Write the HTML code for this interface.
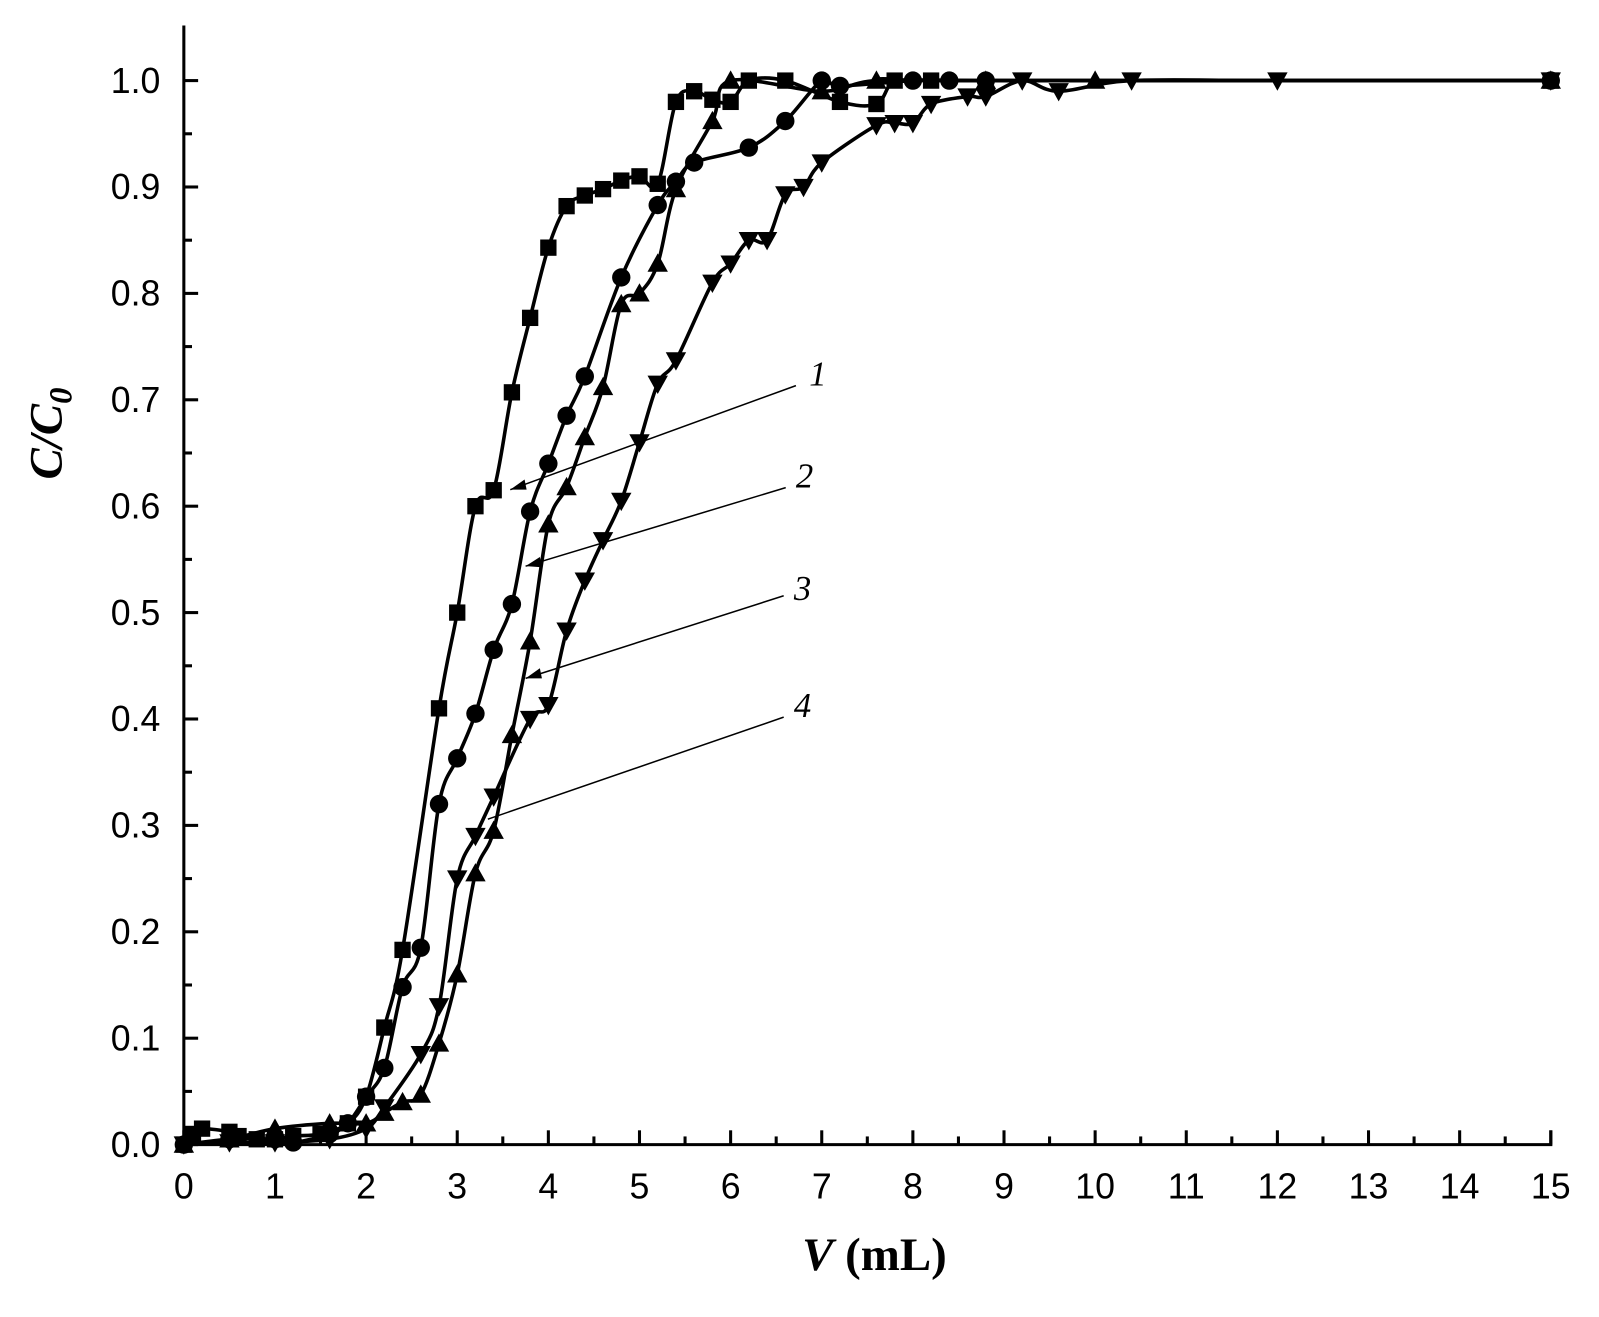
<!DOCTYPE html>
<html><head><style>
html,body{margin:0;padding:0;background:#fff;}
svg{display:block;}
.sans{font-family:"Liberation Sans",Arial,sans-serif;}
.serif{font-family:"Liberation Serif","Times New Roman",serif;}
</style></head><body>
<svg id="s" width="1599" height="1317" viewBox="0 0 1567 1291" xmlns="http://www.w3.org/2000/svg">
<rect width="1567" height="1291" fill="#fff"/>
<g id="ax" stroke="#000" stroke-width="3" fill="none"></g>
<g id="lbl" class="sans" font-size="35" fill="#000"></g>
<g id="cv" stroke="#000" stroke-width="3.5" fill="none"></g>
<g id="mk" fill="#000"></g>
<g stroke="#000" stroke-width="1.5" fill="none">
<line x1="780" y1="378" x2="500" y2="480"/>
<line x1="770" y1="478" x2="515" y2="555"/>
<line x1="768" y1="584" x2="515" y2="665"/>
<line x1="768" y1="703" x2="478" y2="803"/>
</g>
<g fill="#000">
<polygon points="500,480 514,470 516,480"/>
<polygon points="515,555 529,546 531,556"/>
<polygon points="515,665 529,655 531,665"/>
</g>
<g class="serif" font-style="italic" font-size="34" fill="#000">
<text x="793" y="378">1</text>
<text x="780" y="478">2</text>
<text x="778" y="588">3</text>
<text x="778" y="703">4</text>
</g>
<text class="serif" transform="translate(60,425) rotate(-90)" text-anchor="middle" font-weight="bold" font-style="italic" font-size="46" fill="#000">C/C<tspan font-size="32" dy="10">0</tspan></text>
<text class="serif" x="857" y="1245" text-anchor="middle" font-weight="bold" font-size="46" fill="#000"><tspan font-style="italic">V</tspan> (mL)</text>
</svg>
<script>
var NS="http://www.w3.org/2000/svg";
function X(v){return 180+v*89.33;}
function Y(c){return 1122-c*1043;}
function el(p,t,a){var e=document.createElementNS(NS,t);for(var k in a)e.setAttribute(k,a[k]);document.getElementById(p).appendChild(e);return e;}
el("ax","path",{d:"M180,25 L180,1122 L1520,1122 L1520,1108"});
for(var i=0;i<=21;i++){var c=i*0.05;var len=(i%2==0)?14:8;if(c>1.04)continue;el("ax","line",{x1:180,y1:Y(c),x2:180+len,y2:Y(c)});}
for(var i=0;i<=10;i++){var t=el("lbl","text",{x:157,y:Y(i/10)+12,"text-anchor":"end"});t.textContent=(i/10).toFixed(1);}
for(var v=0;v<=15;v+=0.5){var len=(v%1==0)?14:8;el("ax","line",{x1:X(v),y1:1122,x2:X(v),y2:1122-len});}
for(var v=0;v<=15;v++){var t=el("lbl","text",{x:X(v),y:1175,"text-anchor":"middle"});t.textContent=v;}
var S=[
[[0,0],[0.1,0.01],[0.2,0.015],[0.5,0.012],[0.6,0.008],[0.8,0.005],[1,0.005],[1.2,0.008],[1.5,0.01],[1.8,0.02],[2,0.045],[2.2,0.11],[2.4,0.183],[2.8,0.41],[3,0.5],[3.2,0.6],[3.4,0.615],[3.6,0.707],[3.8,0.777],[4,0.843],[4.2,0.882],[4.4,0.892],[4.6,0.898],[4.8,0.906],[5,0.91],[5.2,0.903],[5.4,0.98],[5.6,0.99],[5.8,0.982],[6,0.98],[6.2,1.0],[6.6,1.0],[7.2,0.98],[7.6,0.978],[7.8,1.0],[8.2,1.0],[15,1.0]],
[[0,0],[0.5,0.005],[1,0.005],[1.2,0.002],[1.6,0.01],[1.8,0.02],[2,0.045],[2.2,0.072],[2.4,0.148],[2.6,0.185],[2.8,0.32],[3,0.363],[3.2,0.405],[3.4,0.465],[3.6,0.508],[3.8,0.595],[4,0.64],[4.2,0.685],[4.4,0.722],[4.8,0.815],[5.2,0.883],[5.4,0.905],[5.6,0.923],[6.2,0.937],[6.6,0.962],[7,1.0],[7.2,0.995],[8,1.0],[8.4,1.0],[8.8,1.0],[15,1.0]],
[[0,0],[0.5,0.005],[1,0.015],[1.6,0.02],[2,0.02],[2.2,0.03],[2.4,0.04],[2.6,0.047],[2.8,0.095],[3,0.16],[3.2,0.255],[3.4,0.295],[3.6,0.385],[3.8,0.473],[4,0.583],[4.2,0.618],[4.4,0.665],[4.6,0.712],[4.8,0.79],[5,0.8],[5.2,0.828],[5.4,0.898],[5.8,0.962],[6,1.0],[7,0.99],[7.6,1.0],[8.8,1.0],[10,1.0],[15,1.0]],
[[0,0],[0.5,0.002],[1,0.002],[1.6,0.005],[2,0.015],[2.2,0.035],[2.6,0.085],[2.8,0.13],[3,0.25],[3.2,0.29],[3.4,0.327],[3.8,0.4],[4,0.413],[4.2,0.483],[4.4,0.53],[4.6,0.568],[4.8,0.605],[5,0.66],[5.2,0.715],[5.4,0.737],[5.8,0.81],[6,0.828],[6.2,0.85],[6.4,0.85],[6.6,0.893],[6.8,0.9],[7,0.923],[7.6,0.958],[7.8,0.96],[8,0.96],[8.2,0.978],[8.6,0.985],[8.8,0.985],[9.2,1.0],[9.6,0.99],[10.4,1.0],[12,1.0],[15,1.0]]];
S.forEach(function(d,si){
 var p=d.map(function(q){return [X(q[0]),Y(q[1])];});
 var s="M"+p[0][0]+","+p[0][1];
 for(var i=0;i<p.length-1;i++){var p0=p[i-1]||p[i],p1=p[i],p2=p[i+1],p3=p[i+2]||p2;
  s+=" C"+(p1[0]+(p2[0]-p0[0])/6)+","+(p1[1]+(p2[1]-p0[1])/6)+" "+(p2[0]-(p3[0]-p1[0])/6)+","+(p2[1]-(p3[1]-p1[1])/6)+" "+p2[0]+","+p2[1];}
 el("cv","path",{d:s});
 p.forEach(function(q){var x=q[0],y=q[1];
  if(si==0)el("mk","rect",{x:x-8,y:y-8,width:16,height:16});
  else if(si==1)el("mk","circle",{cx:x,cy:y,r:9});
  else if(si==2)el("mk","polygon",{points:(x)+","+(y-10)+" "+(x+10)+","+(y+8)+" "+(x-10)+","+(y+8)});
  else el("mk","polygon",{points:(x)+","+(y+10)+" "+(x+10)+","+(y-8)+" "+(x-10)+","+(y-8)});
 });
});
</script>
</body></html>
